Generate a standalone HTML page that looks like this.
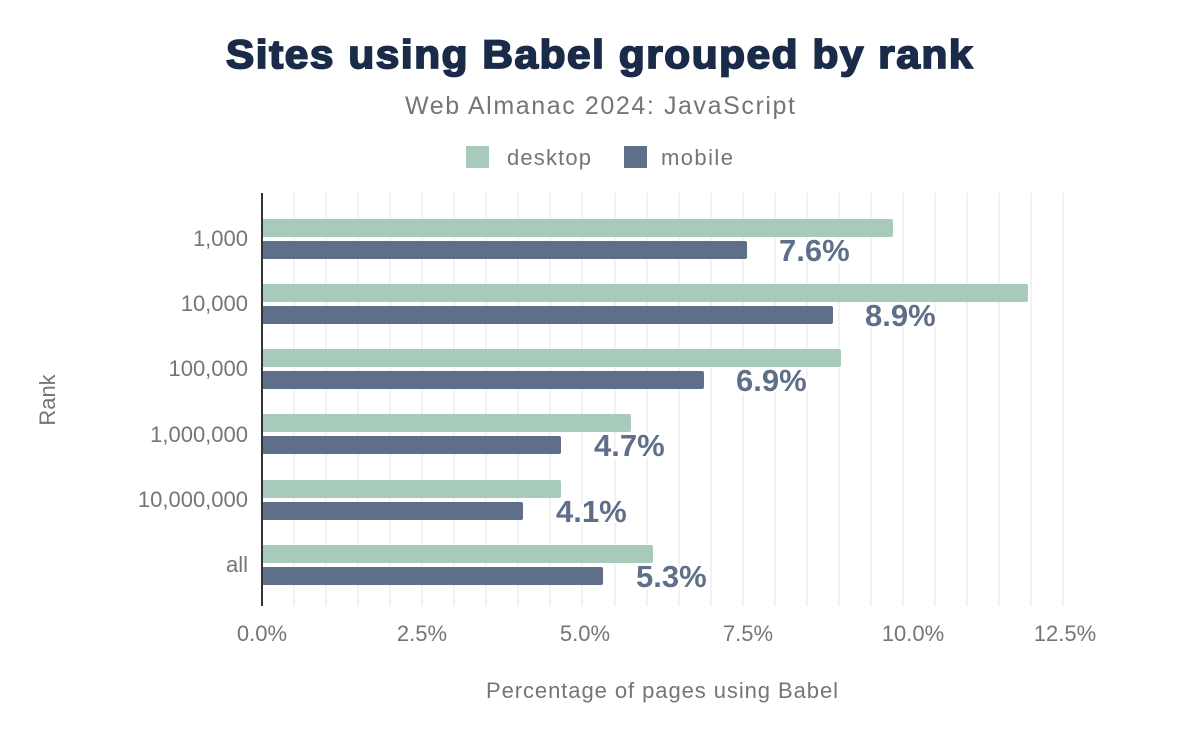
<!DOCTYPE html>
<html><head><style>
body{margin:0;background:#fff;width:1200px;height:742px;overflow:hidden;font-family:"Liberation Sans",sans-serif}
</style></head><body>
<svg width="1200" height="742" xmlns="http://www.w3.org/2000/svg" font-family="Liberation Sans, sans-serif">
<text x="600" y="68" text-anchor="middle" font-size="40" font-weight="bold" fill="#1a2b49" stroke="#1a2b49" stroke-width="1.8" letter-spacing="1.5" textLength="748" lengthAdjust="spacingAndGlyphs">Sites using Babel grouped by rank</text>
<text x="600" y="114" text-anchor="middle" font-size="25" fill="#757575" textLength="390">Web Almanac 2024: JavaScript</text>
<rect x="466" y="146" width="23" height="22" fill="#a8cabb"/>
<text x="507" y="165" font-size="22" fill="#757575" textLength="84">desktop</text>
<rect x="624" y="146" width="23" height="22" fill="#5f6f8a"/>
<text x="661" y="165" font-size="22" fill="#757575" textLength="72">mobile</text>
<g stroke="#eeeeee" stroke-width="1.5">
<line x1="294" y1="193" x2="294" y2="606"/><line x1="326" y1="193" x2="326" y2="606"/><line x1="358" y1="193" x2="358" y2="606"/><line x1="390" y1="193" x2="390" y2="606"/><line x1="422" y1="193" x2="422" y2="606"/><line x1="454" y1="193" x2="454" y2="606"/><line x1="486" y1="193" x2="486" y2="606"/><line x1="518" y1="193" x2="518" y2="606"/><line x1="550" y1="193" x2="550" y2="606"/><line x1="582" y1="193" x2="582" y2="606"/><line x1="615" y1="193" x2="615" y2="606"/><line x1="647" y1="193" x2="647" y2="606"/><line x1="679" y1="193" x2="679" y2="606"/><line x1="711" y1="193" x2="711" y2="606"/><line x1="743" y1="193" x2="743" y2="606"/><line x1="775" y1="193" x2="775" y2="606"/><line x1="807" y1="193" x2="807" y2="606"/><line x1="839" y1="193" x2="839" y2="606"/><line x1="871" y1="193" x2="871" y2="606"/><line x1="903" y1="193" x2="903" y2="606"/><line x1="935" y1="193" x2="935" y2="606"/><line x1="967" y1="193" x2="967" y2="606"/><line x1="999" y1="193" x2="999" y2="606"/><line x1="1031" y1="193" x2="1031" y2="606"/><line x1="1063" y1="193" x2="1063" y2="606"/>
</g>
<g fill="#a8cabb">
<rect x="262" y="219" width="631" height="18" rx="2"/>
<rect x="262" y="284" width="766" height="18" rx="2"/>
<rect x="262" y="349" width="579" height="18" rx="2"/>
<rect x="262" y="414" width="369" height="18" rx="2"/>
<rect x="262" y="480" width="299" height="18" rx="2"/>
<rect x="262" y="545" width="391" height="18" rx="2"/>
</g>
<g fill="#5f6f8a">
<rect x="262" y="241" width="485" height="18" rx="2"/>
<rect x="262" y="306" width="571" height="18" rx="2"/>
<rect x="262" y="371" width="442" height="18" rx="2"/>
<rect x="262" y="436" width="299" height="18" rx="2"/>
<rect x="262" y="502" width="261" height="18" rx="2"/>
<rect x="262" y="567" width="341" height="18" rx="2"/>
</g>
<line x1="262" y1="193" x2="262" y2="606" stroke="#333" stroke-width="2"/>
<g font-size="31" font-weight="bold" fill="#5f6f8a" stroke="#fff" stroke-width="5" paint-order="stroke">
<text x="779" y="261">7.6%</text>
<text x="865" y="326">8.9%</text>
<text x="736" y="391">6.9%</text>
<text x="594" y="456">4.7%</text>
<text x="556" y="522">4.1%</text>
<text x="636" y="587">5.3%</text>
</g>
<g font-size="22" fill="#757575" text-anchor="end">
<text x="248" y="246">1,000</text>
<text x="248" y="311">10,000</text>
<text x="248" y="376">100,000</text>
<text x="248" y="442">1,000,000</text>
<text x="248" y="507">10,000,000</text>
<text x="248" y="572">all</text>
</g>
<g font-size="22" fill="#757575" text-anchor="middle">
<text x="262" y="641">0.0%</text>
<text x="422" y="641">2.5%</text>
<text x="585" y="641">5.0%</text>
<text x="748" y="641">7.5%</text>
<text x="913" y="641">10.0%</text>
<text x="1065" y="641">12.5%</text>
<text x="662" y="698" textLength="352">Percentage of pages using Babel</text>
</g>
<text x="0" y="0" font-size="22" fill="#757575" text-anchor="middle" transform="translate(55,400) rotate(-90)">Rank</text>
</svg>
</body></html>
